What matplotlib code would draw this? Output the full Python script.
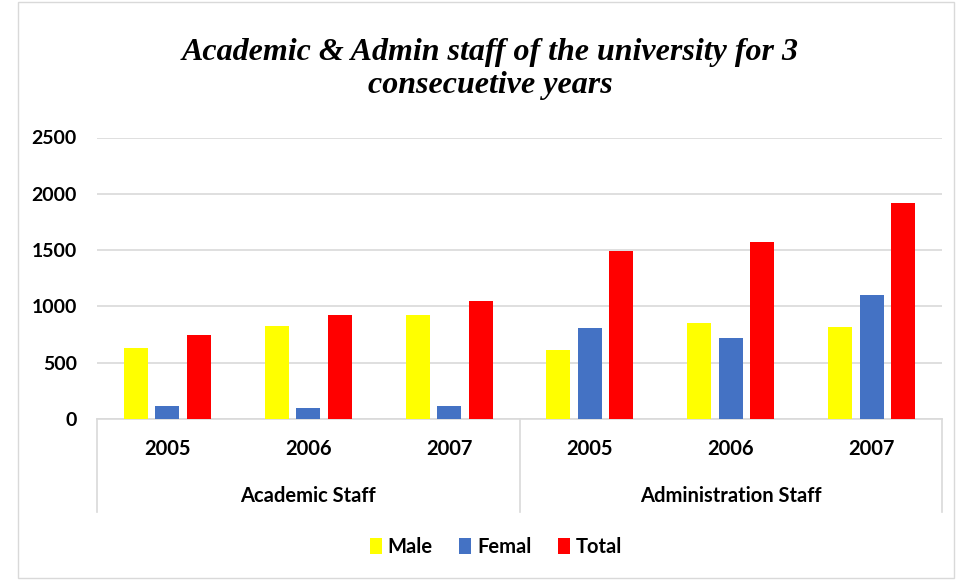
import matplotlib
matplotlib.use("Agg")
import matplotlib.pyplot as plt
import numpy as np
from matplotlib.patches import Rectangle
from matplotlib.lines import Line2D
from matplotlib.transforms import blended_transform_factory

groups = ["Academic Staff", "Administration Staff"]
years = ["2005", "2006", "2007"]
series = ["Male", "Femal", "Total"]
male = [630, 830, 925, 615, 855, 820]
femal = [115, 95, 115, 810, 720, 1105]
total = [745, 925, 1050, 1490, 1570, 1915]
yticks = [0, 500, 1000, 1500, 2000, 2500]
colors = ["#FFFF00", "#4472C4", "#FF0000"]
title = "Academic & Admin staff of the university for 3\nconsecuetive years"

W, H = 960, 580
fig = plt.figure(figsize=(W / 100, H / 100), dpi=100)
fig.patches.append(Rectangle((18 / W, 2 / H), 936 / W, 576 / H, transform=fig.transFigure,
                             fill=False, edgecolor="#D9D9D9", linewidth=1))

L, R, B, T = 97, 942, 419, 137.5
ax = fig.add_axes([L / W, 1 - B / H, (R - L) / W, (B - T) / H])
n = len(male)
x = np.arange(n)
pitch, bw = 0.224, 0.17
for i, (vals, c) in enumerate(zip([male, femal, total], colors)):
    ax.bar(x + (i - 1) * pitch, vals, width=bw, color=c, label=series[i], zorder=3)
ax.set_xlim(-0.5, n - 0.5)
ax.set_ylim(0, 2500)
ax.set_yticks(yticks)
ax.yaxis.grid(True, color="#D9D9D9", linewidth=1.2, zorder=0)
for s in ax.spines.values():
    s.set_visible(False)
ax.tick_params(axis="y", length=0, pad=14.5, labelsize=14)
for lab in ax.get_yticklabels():
    lab.set_fontweight("bold")
    lab.set_fontfamily("Lato")
ax.set_xticks([])

# hierarchical category axis
tr = blended_transform_factory(ax.transData, fig.transFigure)
ybase = 1 - B / H
ybot = 1 - 512 / H
ax.add_line(Line2D([-0.5, n - 0.5], [ybase, ybase], transform=tr, color="#D9D9D9", lw=1.2, clip_on=False))
for xv in [-0.5, 2.5, n - 0.5]:
    ax.add_line(Line2D([xv, xv], [ybase, ybot], transform=tr, color="#D9D9D9", lw=1.2, clip_on=False))
for i in range(n):
    ax.text(x[i], 1 - 449 / H, years[i % 3], transform=tr, ha="center", va="center",
            fontsize=14.5, fontweight="bold", family="Lato")
for g, gname in enumerate(groups):
    ax.text(g * 3 + 1, 1 - 496 / H, gname, transform=tr, ha="center", va="center",
            fontsize=14.5, fontweight="bold", family="Lato")

fig.text(490 / W, 1 - 69 / H, title, ha="center", va="center", fontsize=23,
         fontstyle="italic", fontweight="bold", family="Liberation Serif", linespacing=1.15)

leg = fig.legend(loc="center", bbox_to_anchor=(496 / W, 1 - 547 / H), ncol=3, frameon=False,
                 prop={"family": "Lato", "weight": "bold", "size": 14.5},
                 handlelength=0.6, handleheight=0.8, handletextpad=0.3, columnspacing=1.3)

fig.savefig("out.png", dpi=100)
